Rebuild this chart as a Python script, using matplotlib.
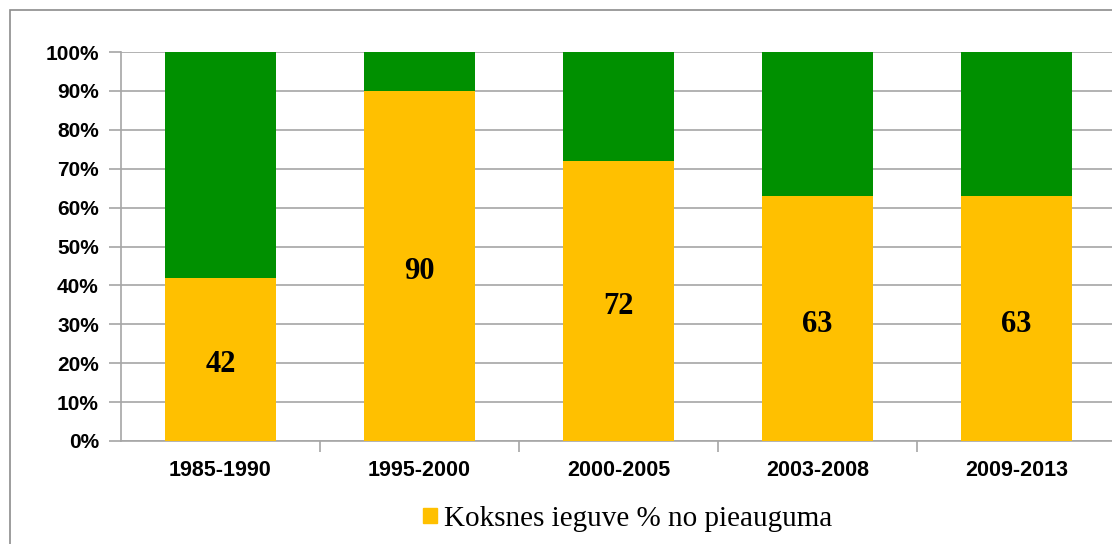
import matplotlib.pyplot as plt
from matplotlib.patches import Rectangle
from matplotlib.ticker import FuncFormatter

periods = ["1985-1990", "1995-2000", "2000-2005", "2003-2008", "2009-2013"]
harvest_pct = [42, 90, 72, 63, 63]
remainder_pct = [100 - v for v in harvest_pct]
legend_label = "Koksnes ieguve % no pieauguma"

YELLOW = "#FFC000"
GREEN = "#009000"
GRID = "#A6A6A6"

fig = plt.figure(figsize=(11.12, 5.44), dpi=100)
fig.patch.set_facecolor("white")

# outer chart frame (partially running off the canvas)
fig.add_artist(Rectangle((10 / 1112, -0.05), 1.2, (544 - 10) / 544 + 0.05,
                         transform=fig.transFigure, fill=False,
                         edgecolor="#8C8C8C", linewidth=1.2))

ax = fig.add_axes([121 / 1112, 103 / 544, 995 / 1112, 389 / 544])
x = list(range(len(periods)))
w = 0.56
ax.bar(x, [v / 100 for v in harvest_pct], width=w, color=YELLOW, zorder=3)
ax.bar(x, [v / 100 for v in remainder_pct], width=w,
       bottom=[v / 100 for v in harvest_pct], color=GREEN, zorder=3)

for xi, v in zip(x, harvest_pct):
    ax.annotate(f"{v}", (xi, v / 200), xytext=(0, -4), textcoords="offset points",
                ha="center", va="center", fontsize=22, fontweight="bold",
                family="Liberation Serif", zorder=4)

ax.set_xlim(-0.5, len(periods) - 0.5)
ax.set_ylim(0, 1)
ax.set_yticks([i / 10 for i in range(11)])
ax.yaxis.set_major_formatter(FuncFormatter(lambda v, p: f"{v * 100:.0f}%"))
ax.yaxis.grid(True, color=GRID, linewidth=1.2, zorder=0)
ax.set_axisbelow(True)

ax.set_xticks(x)
ax.set_xticklabels(periods)
ax.set_xticks([i + 0.5 for i in range(len(periods) - 1)], minor=True)
ax.tick_params(axis="x", which="major", length=0, pad=13.5)
ax.tick_params(axis="x", which="minor", length=8, color=GRID, width=1.2,
               direction="out")
ax.tick_params(axis="y", length=9, color=GRID, width=1.2, pad=7)

for lab in ax.get_xticklabels() + ax.get_yticklabels():
    lab.set_family("Liberation Sans")
    lab.set_fontweight("bold")
for lab in ax.get_xticklabels():
    lab.set_fontsize(15.5)
for lab in ax.get_yticklabels():
    lab.set_fontsize(15)

for side in ["top", "right"]:
    ax.spines[side].set_visible(False)
for side in ["left", "bottom"]:
    ax.spines[side].set_color(GRID)
    ax.spines[side].set_linewidth(1.2)

handle = Rectangle((0, 0), 1, 1, color=YELLOW)
fig.legend([handle], [legend_label], loc="center", bbox_to_anchor=(628 / 1112, 1 - 519 / 544),
           frameon=False, prop={"family": "Liberation Serif", "size": 21},
           handlelength=0.45, handleheight=0.45, handletextpad=0.27)

fig.savefig("out.png", dpi=100, facecolor="white")
